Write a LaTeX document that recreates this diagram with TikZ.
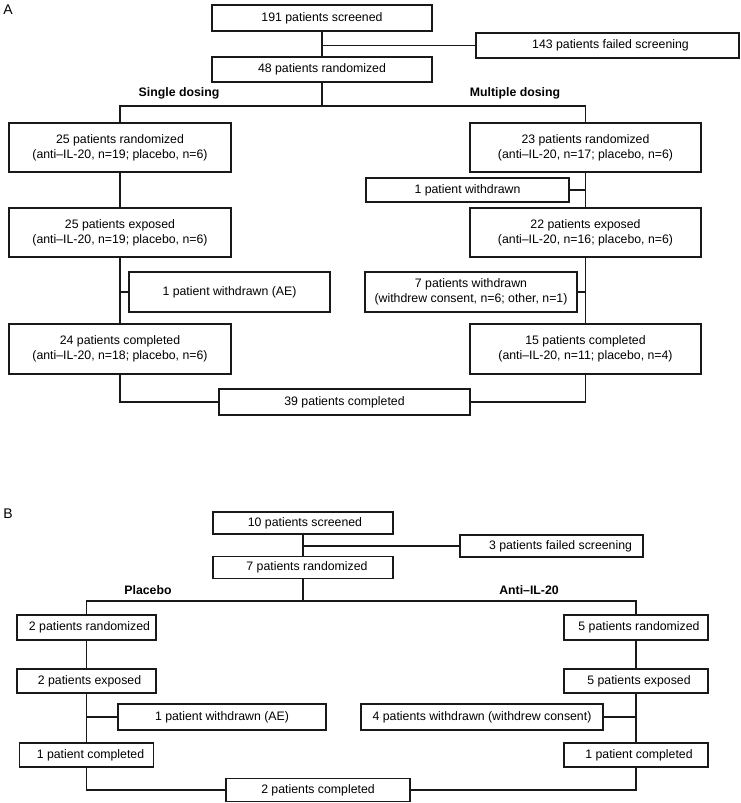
\documentclass[tikz,border=0pt]{standalone}
\usepackage{fontspec}
\setmainfont{Liberation Sans}
\begin{document}
\begin{tikzpicture}[x=1pt,y=-1pt,
  every node/.style={font={\fontsize{12.3}{15}\selectfont}},
  box/.style={draw=black!90, line width=1.1pt, rectangle, inner sep=0pt, align=center},
  lbl/.style={font={\fontsize{12.3}{15}\selectfont\bfseries}},
  conn/.style={draw=black!90, line width=1.1pt}]
\useasboundingbox (0,0) rectangle (741,803);
% ---------------- Panel A ----------------
\node[font={\fontsize{14}{16}\selectfont}] (labA) at (8,10) {A};
\node[box, minimum width=220pt, minimum height=26pt] (scrA) at (322,18) {191 patients screened};
\node[box, minimum width=263pt, minimum height=25pt] (failA) at (607.5,45.5) {\hspace*{6pt}143 patients failed screening};
\node[box, minimum width=220pt, minimum height=25pt] (randA) at (322,69.5) {48 patients randomized};
\node[lbl] (sdl) at (179,93) {Single dosing};
\node[lbl] (mdl) at (515,93) {Multiple dosing};
\coordinate (jA) at (322,106);
\node[box, minimum width=222pt, minimum height=49pt] (r25) at (120,147.5) {25 patients randomized\\(anti--IL-20, n=19; placebo, n=6)};
\node[box, minimum width=231pt, minimum height=49pt] (r23) at (585.5,147.5) {23 patients randomized\\(anti--IL-20, n=17; placebo, n=6)};
\node[box, minimum width=203pt, minimum height=24pt] (w1) at (467.5,190) {1 patient withdrawn};
\node[box, minimum width=222pt, minimum height=49pt] (e25) at (120,232.5) {25 patients exposed\\(anti--IL-20, n=19; placebo, n=6)};
\node[box, minimum width=231pt, minimum height=49pt] (e22) at (585.5,232.5) {22 patients exposed\\(anti--IL-20, n=16; placebo, n=6)};
\node[box, minimum width=201pt, minimum height=40pt] (wAE) at (229.5,292) {1 patient withdrawn (AE)};
\node[box, minimum width=212pt, minimum height=40pt] (w7) at (471,292) {7 patients withdrawn\\(withdrew consent, n=6; other, n=1)};
\node[box, minimum width=222pt, minimum height=50pt] (c24) at (120,349) {24 patients completed\\(anti--IL-20, n=18; placebo, n=6)};
\node[box, minimum width=231pt, minimum height=50pt] (c15) at (585.5,349) {15 patients completed\\(anti--IL-20, n=11; placebo, n=4)};
\node[box, minimum width=251pt, minimum height=26pt] (t39) at (344.5,402) {39 patients completed};
\draw[conn] (scrA.south) -- (randA.north);
\draw[conn] (failA.west) -- (scrA.south |- failA.west);
\draw[conn] (randA.south) -- (jA);
\draw[conn] (r25.north) |- (jA) -| (r23.north);
\draw[conn] (r25.south) -- (e25.north);
\draw[conn] (e25.south) -- (c24.north);
\draw[conn] (wAE.west) -- (e25.south |- wAE.west);
\draw[conn] (r23.south) -- (e22.north);
\draw[conn] (w1.east) -- (r23.south |- w1.east);
\draw[conn] (e22.south) -- (c15.north);
\draw[conn] (w7.east) -- (e22.south |- w7.east);
\draw[conn] (c24.south) |- (t39.west);
\draw[conn] (c15.south) |- (t39.east);
% ---------------- Panel B ----------------
\node[font={\fontsize{14}{16}\selectfont}] (labB) at (8,514) {B};
\node[box, minimum width=180pt, minimum height=22pt] (scrB) at (303,523) {\hspace*{4pt}10 patients screened};
\node[box, minimum width=183pt, minimum height=22pt] (failB) at (551.5,546) {\hspace*{18pt}3 patients failed screening};
\node[box, minimum width=180pt, minimum height=22pt] (randB) at (303,567.5) {\hspace*{8pt}7 patients randomized};
\node[lbl] (pl) at (148,590) {Placebo};
\node[lbl] (al) at (529,590) {Anti--IL-20};
\coordinate (jB) at (303,601);
\node[box, minimum width=139pt, minimum height=25pt] (r2) at (86.5,627.5) {\hspace*{6pt}2 patients randomized};
\node[box, minimum width=144pt, minimum height=25pt] (r5) at (636,627.5) {\hspace*{6pt}5 patients randomized};
\node[box, minimum width=139pt, minimum height=24pt] (e2) at (86.5,681) {\hspace*{6pt}2 patients exposed};
\node[box, minimum width=144pt, minimum height=24pt] (e5) at (636,681) {\hspace*{6pt}5 patients exposed};
\node[box, minimum width=208pt, minimum height=26pt] (wB) at (222,717) {1 patient withdrawn (AE)};
\node[box, minimum width=242pt, minimum height=26pt] (w4) at (482,717) {4 patients withdrawn (withdrew consent)};
\node[box, minimum width=134pt, minimum height=24pt] (c1L) at (86.5,755) {\hspace*{8pt}1 patient completed};
\node[box, minimum width=144pt, minimum height=24pt] (c1R) at (636,755) {\hspace*{6pt}1 patient completed};
\node[box, minimum width=184pt, minimum height=23pt] (t2) at (318,790) {2 patients completed};
\draw[conn] (scrB.south) -- (randB.north);
\draw[conn] (failB.west) -- (scrB.south |- failB.west);
\draw[conn] (randB.south) -- (jB);
\draw[conn] (r2.north) |- (jB) -| (r5.north);
\draw[conn] (r2.south) -- (e2.north);
\draw[conn] (e2.south) -- (c1L.north);
\draw[conn] (wB.west) -- (e2.south |- wB.west);
\draw[conn] (r5.south) -- (e5.north);
\draw[conn] (e5.south) -- (c1R.north);
\draw[conn] (w4.east) -- (e5.south |- w4.east);
\draw[conn] (c1L.south) |- (t2.west);
\draw[conn] (c1R.south) |- (t2.east);
\end{tikzpicture}
\end{document}
